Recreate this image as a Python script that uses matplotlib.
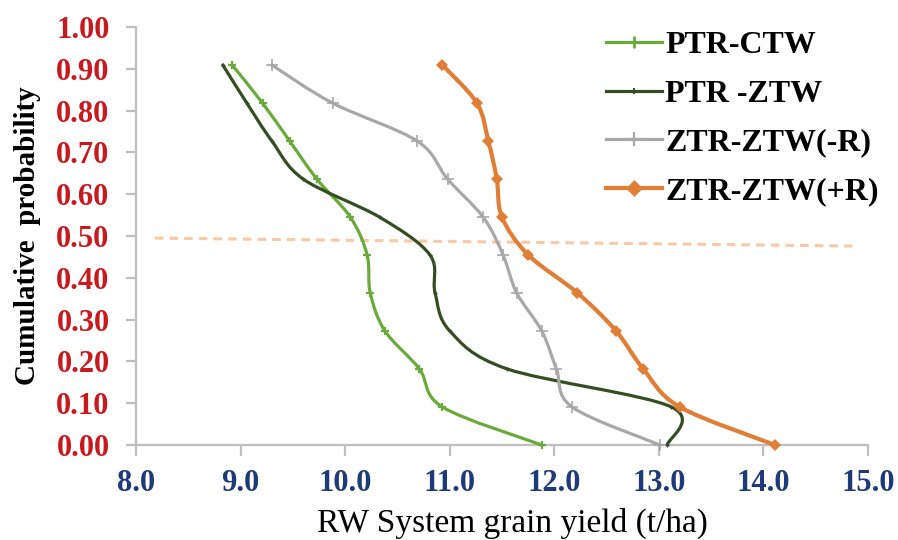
import matplotlib
matplotlib.use("Agg")
import matplotlib.pyplot as plt
import numpy as np
from matplotlib.lines import Line2D
from matplotlib.patches import PathPatch
from matplotlib.path import Path

plt.rcParams["font.family"] = ["Liberation Serif", "DejaVu Serif"]

# cumulative probability levels (k/11)
prob = [0.000, 0.091, 0.182, 0.273, 0.364, 0.455, 0.545, 0.636, 0.727, 0.818, 0.909]

# RW system grain yield (t/ha) at each probability level
ptr_ctw = [11.88, 10.93, 10.71, 10.38, 10.24, 10.21, 10.05, 9.73, 9.47, 9.21, 8.92]
ptr_ztw = [13.08, 13.12, 11.55, 11.00, 10.86, 10.81, 10.33, 9.60, 9.30, 9.06, 8.83]
ztr_ztw_nr = [13.01, 12.17, 12.02, 11.88, 11.64, 11.51, 11.32, 10.98, 10.69, 9.88, 9.30]
ztr_ztw_r = [14.11, 13.20, 12.85, 12.59, 12.22, 11.75, 11.50, 11.45, 11.37, 11.26, 10.93]

series_names = ["PTR-CTW", "PTR -ZTW", "ZTR-ZTW(-R)", "ZTR-ZTW(+R)"]

# 50 % reference line (dashed)
ref_x = [8.18, 14.85]
ref_y = [0.495, 0.476]

xticks = [8, 9, 10, 11, 12, 13, 14, 15]
yticks = [0.0, 0.1, 0.2, 0.3, 0.4, 0.5, 0.6, 0.7, 0.8, 0.9, 1.0]

GRAY_AX = "#BFBFBF"
styles = [
    dict(color="#6AAA3A", lw=2.3, marker="+", ms=6, mew=1.6),
    dict(color="#344D22", lw=2.3, marker="+", ms=3, mew=1.0),
    dict(color="#A8A8A8", lw=2.3, marker="+", ms=8, mew=1.2),
    dict(color="#E07E36", lw=3.0, marker="D", ms=6, mew=0),
]


def smooth_path(xs, ys):
    """Excel-style smoothed line: cubic Bezier through every point."""
    p = np.column_stack([xs, ys]).astype(float)
    ext = np.vstack([p[0], p, p[-1]])
    verts, codes = [p[0]], [Path.MOVETO]
    for i in range(len(p) - 1):
        p0, p1, p2, p3 = ext[i], ext[i + 1], ext[i + 2], ext[i + 3]
        verts += [p1 + (p2 - p0) / 6, p2 - (p3 - p1) / 6, p2]
        codes += [Path.CURVE4] * 3
    return Path(verts, codes)


fig = plt.figure(figsize=(8.98, 5.4), dpi=100)
ax = fig.add_axes([136 / 898, 95 / 540, 732 / 898, 418 / 540])

ax.plot(ref_x, ref_y, color="#F9C9A3", lw=2.2, linestyle=(0, (2.8, 2.0)),
        clip_on=False, zorder=1)

handles = []
for vals, name, st in zip([ptr_ctw, ptr_ztw, ztr_ztw_nr, ztr_ztw_r], series_names, styles):
    patch = PathPatch(smooth_path(vals, prob), facecolor="none", edgecolor=st["color"],
                      lw=st["lw"], joinstyle="round", capstyle="round", zorder=3,
                      clip_on=False)
    ax.add_patch(patch)
    ax.plot(vals, prob, linestyle="none", marker=st["marker"], ms=st["ms"],
            mew=st["mew"], color=st["color"], zorder=4, clip_on=False)
    handles.append(Line2D([], [], color=st["color"], lw=st["lw"], marker=st["marker"],
                          ms=st["ms"] + 2, mew=st["mew"] + 0.4, label=name))

ax.set_xlim(8, 15)
ax.set_ylim(0, 1)
ax.set_xticks(xticks)
ax.set_xticklabels([f"{v:.1f}" for v in xticks], fontweight="bold")
ax.set_yticks(yticks)
ax.set_yticklabels([f"{v:.2f}" for v in yticks], fontweight="bold")

for side in ("top", "right"):
    ax.spines[side].set_visible(False)
for side in ("left", "bottom"):
    ax.spines[side].set_color(GRAY_AX)
    ax.spines[side].set_linewidth(1.6)

ax.tick_params(axis="x", color=GRAY_AX, labelcolor="#1F3A78", length=8, width=1.6,
               labelsize=22, pad=9)
ax.tick_params(axis="y", color=GRAY_AX, labelcolor="#C8191E", length=7, width=1.6,
               labelsize=22, pad=12)

fig.text(512 / 898, 1 - 523 / 540, "RW System grain yield (t/ha)", ha="center",
         va="center", fontsize=24)
fig.text(28 / 898, 1 - 236 / 540, "Cumulative  probability", ha="center",
         va="center", rotation=90, fontsize=21, fontweight="bold")

fig.legend(handles=handles, loc="upper left", bbox_to_anchor=(606 / 898, 1 - 31 / 540),
           frameon=False, borderpad=0, borderaxespad=0, handlelength=1.75,
           handletextpad=0.1, labelspacing=0.6,
           prop={"size": 23, "weight": "bold"})

fig.savefig("out.png", dpi=100)
